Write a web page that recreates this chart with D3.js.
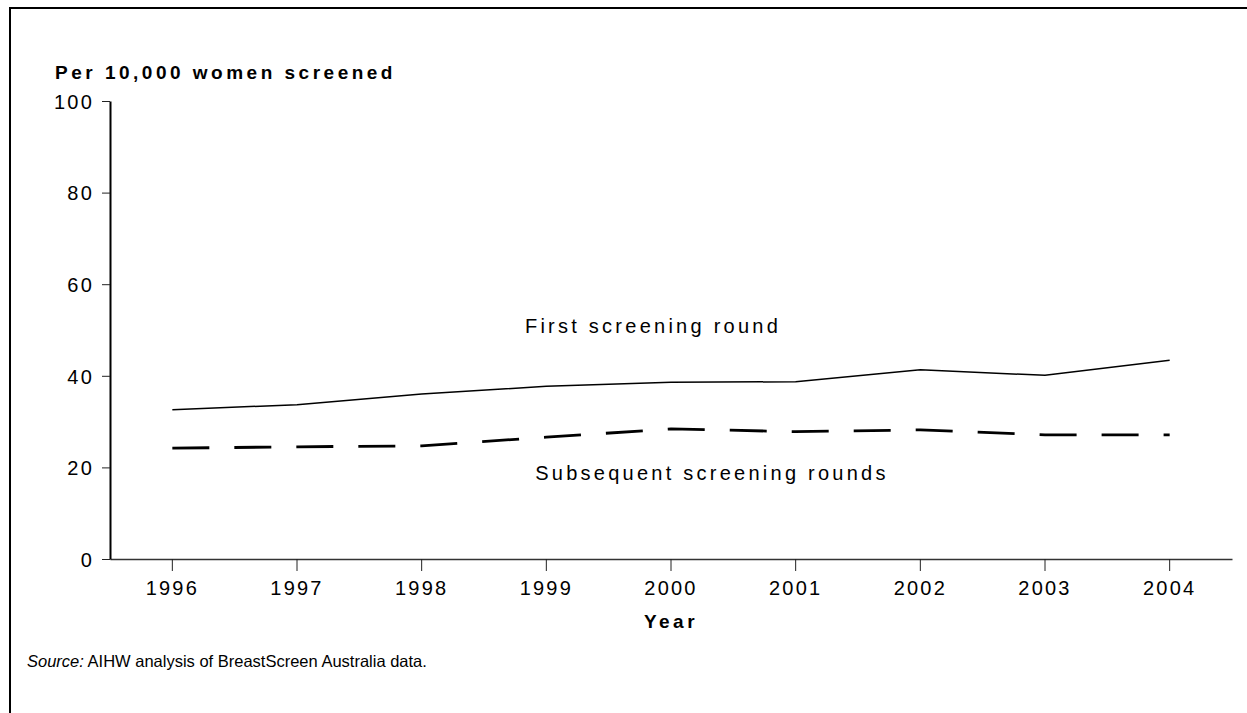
<!DOCTYPE html>
<html>
<head>
<meta charset="utf-8">
<script src="https://d3js.org/d3.v7.min.js"></script>
<style>
	body { margin: 0; background: #fff; }
	svg { display: block; font-family: Arial, "Liberation Sans", sans-serif; }
	.tickText { font-size: 20px; letter-spacing: 2.2px; fill: #000; }
	.bigLabel { font-size: 20px; letter-spacing: 3.25px; fill: #000; }
</style>
</head>
<body>
<div id="chart"></div>
<script>

// chart values

var years = ["1996", "1997", "1998", "1999", "2000", "2001", "2002", "2003", "2004"];
var firstRound = [32.6, 33.7, 36.0, 37.7, 38.6, 38.7, 41.3, 40.1, 43.4];
var subsequentRounds = [24.2, 24.5, 24.7, 26.6, 28.4, 27.8, 28.2, 27.1, 27.1];
var yTicks = [0, 20, 40, 60, 80, 100];

// set size of entire chart area

var svgWidth = 1247;
var svgHeight = 713;

var margin = {
	top: 101,
	right: 15,
	bottom: 154,
	left: 110
};

var width = svgWidth - margin.left - margin.right;
var height = svgHeight - margin.top - margin.bottom;

var svg = d3.select("#chart")
	.append("svg")
	.attr("width", svgWidth)
	.attr("height", svgHeight);

// frame round the figure

svg.append("rect")
	.attr("x", 10)
	.attr("y", 8)
	.attr("width", svgWidth)
	.attr("height", svgHeight)
	.attr("fill", "none")
	.attr("stroke", "#000")
	.attr("stroke-width", 2);

var chartGroup = svg.append("g")
	.attr("transform", `translate(${margin.left}, ${margin.top})`);

// create scales

var xBandScale = d3.scaleBand()
	.domain(years)
	.range([0, width]);

var yLinearScale = d3.scaleLinear()
	.domain([0, 100])
	.range([height, 0]);

var xCenter = d => xBandScale(d) + xBandScale.bandwidth() / 2;

// x axis

var bottomAxis = d3.axisBottom(xBandScale)
	.tickSizeInner(12)
	.tickSizeOuter(0)
	.tickPadding(10);

var xAxis = chartGroup.append("g")
	.attr("transform", `translate(0, ${height})`)
	.call(bottomAxis);

xAxis.select(".domain").attr("stroke", "#333").attr("stroke-width", 1.6);
xAxis.selectAll(".tick line").attr("stroke", "#222");
xAxis.selectAll("text")
	.attr("class", "tickText")
	.attr("dy", "0.7em");

// y axis

var leftAxis = d3.axisLeft(yLinearScale)
	.tickValues(yTicks)
	.tickSizeInner(8)
	.tickSizeOuter(0)
	.tickPadding(8);

var yAxis = chartGroup.append("g")
	.call(leftAxis);

yAxis.select(".domain").attr("stroke", "#000").attr("stroke-width", 2);
yAxis.selectAll(".tick line").attr("stroke", "#222");
yAxis.selectAll("text")
	.attr("class", "tickText")
	.attr("dy", "0.36em");
yAxis.attr("font-size", null).attr("font-family", null);
xAxis.attr("font-size", null).attr("font-family", null);

// lines

var lineGen = d3.line()
	.x((d, i) => xCenter(years[i]))
	.y(d => yLinearScale(d));

chartGroup.append("path")
	.datum(firstRound)
	.attr("d", lineGen)
	.attr("fill", "none")
	.attr("stroke", "#000")
	.attr("stroke-width", 1.5);

chartGroup.append("path")
	.datum(subsequentRounds)
	.attr("d", lineGen)
	.attr("fill", "none")
	.attr("stroke", "#000")
	.attr("stroke-width", 2.8)
	.attr("stroke-dasharray", "37,25");

// series labels

chartGroup.append("text")
	.attr("class", "bigLabel")
	.attr("x", xCenter("2000") - 18)
	.attr("y", yLinearScale(49.4))
	.attr("text-anchor", "middle")
	.text("First screening round");

chartGroup.append("text")
	.attr("class", "bigLabel")
	.attr("x", xCenter("2000") + 41)
	.attr("y", yLinearScale(17.3))
	.attr("text-anchor", "middle")
	.text("Subsequent screening rounds");

// axis titles

svg.append("text")
	.attr("x", 55)
	.attr("y", 79)
	.attr("font-size", "19px")
	.attr("font-weight", "bold")
	.attr("letter-spacing", "3.5px")
	.text("Per 10,000 women screened");

svg.append("text")
	.attr("x", margin.left + width / 2)
	.attr("y", 628)
	.attr("text-anchor", "middle")
	.attr("font-size", "19px")
	.attr("font-weight", "bold")
	.attr("letter-spacing", "3.5px")
	.text("Year");

// source note

var source = svg.append("text")
	.attr("x", 27)
	.attr("y", 667)
	.attr("font-size", "16.5px");

source.append("tspan")
	.attr("font-style", "italic")
	.text("Source:");

source.append("tspan")
	.text(" AIHW analysis of BreastScreen Australia data.");

</script>
</body>
</html>
